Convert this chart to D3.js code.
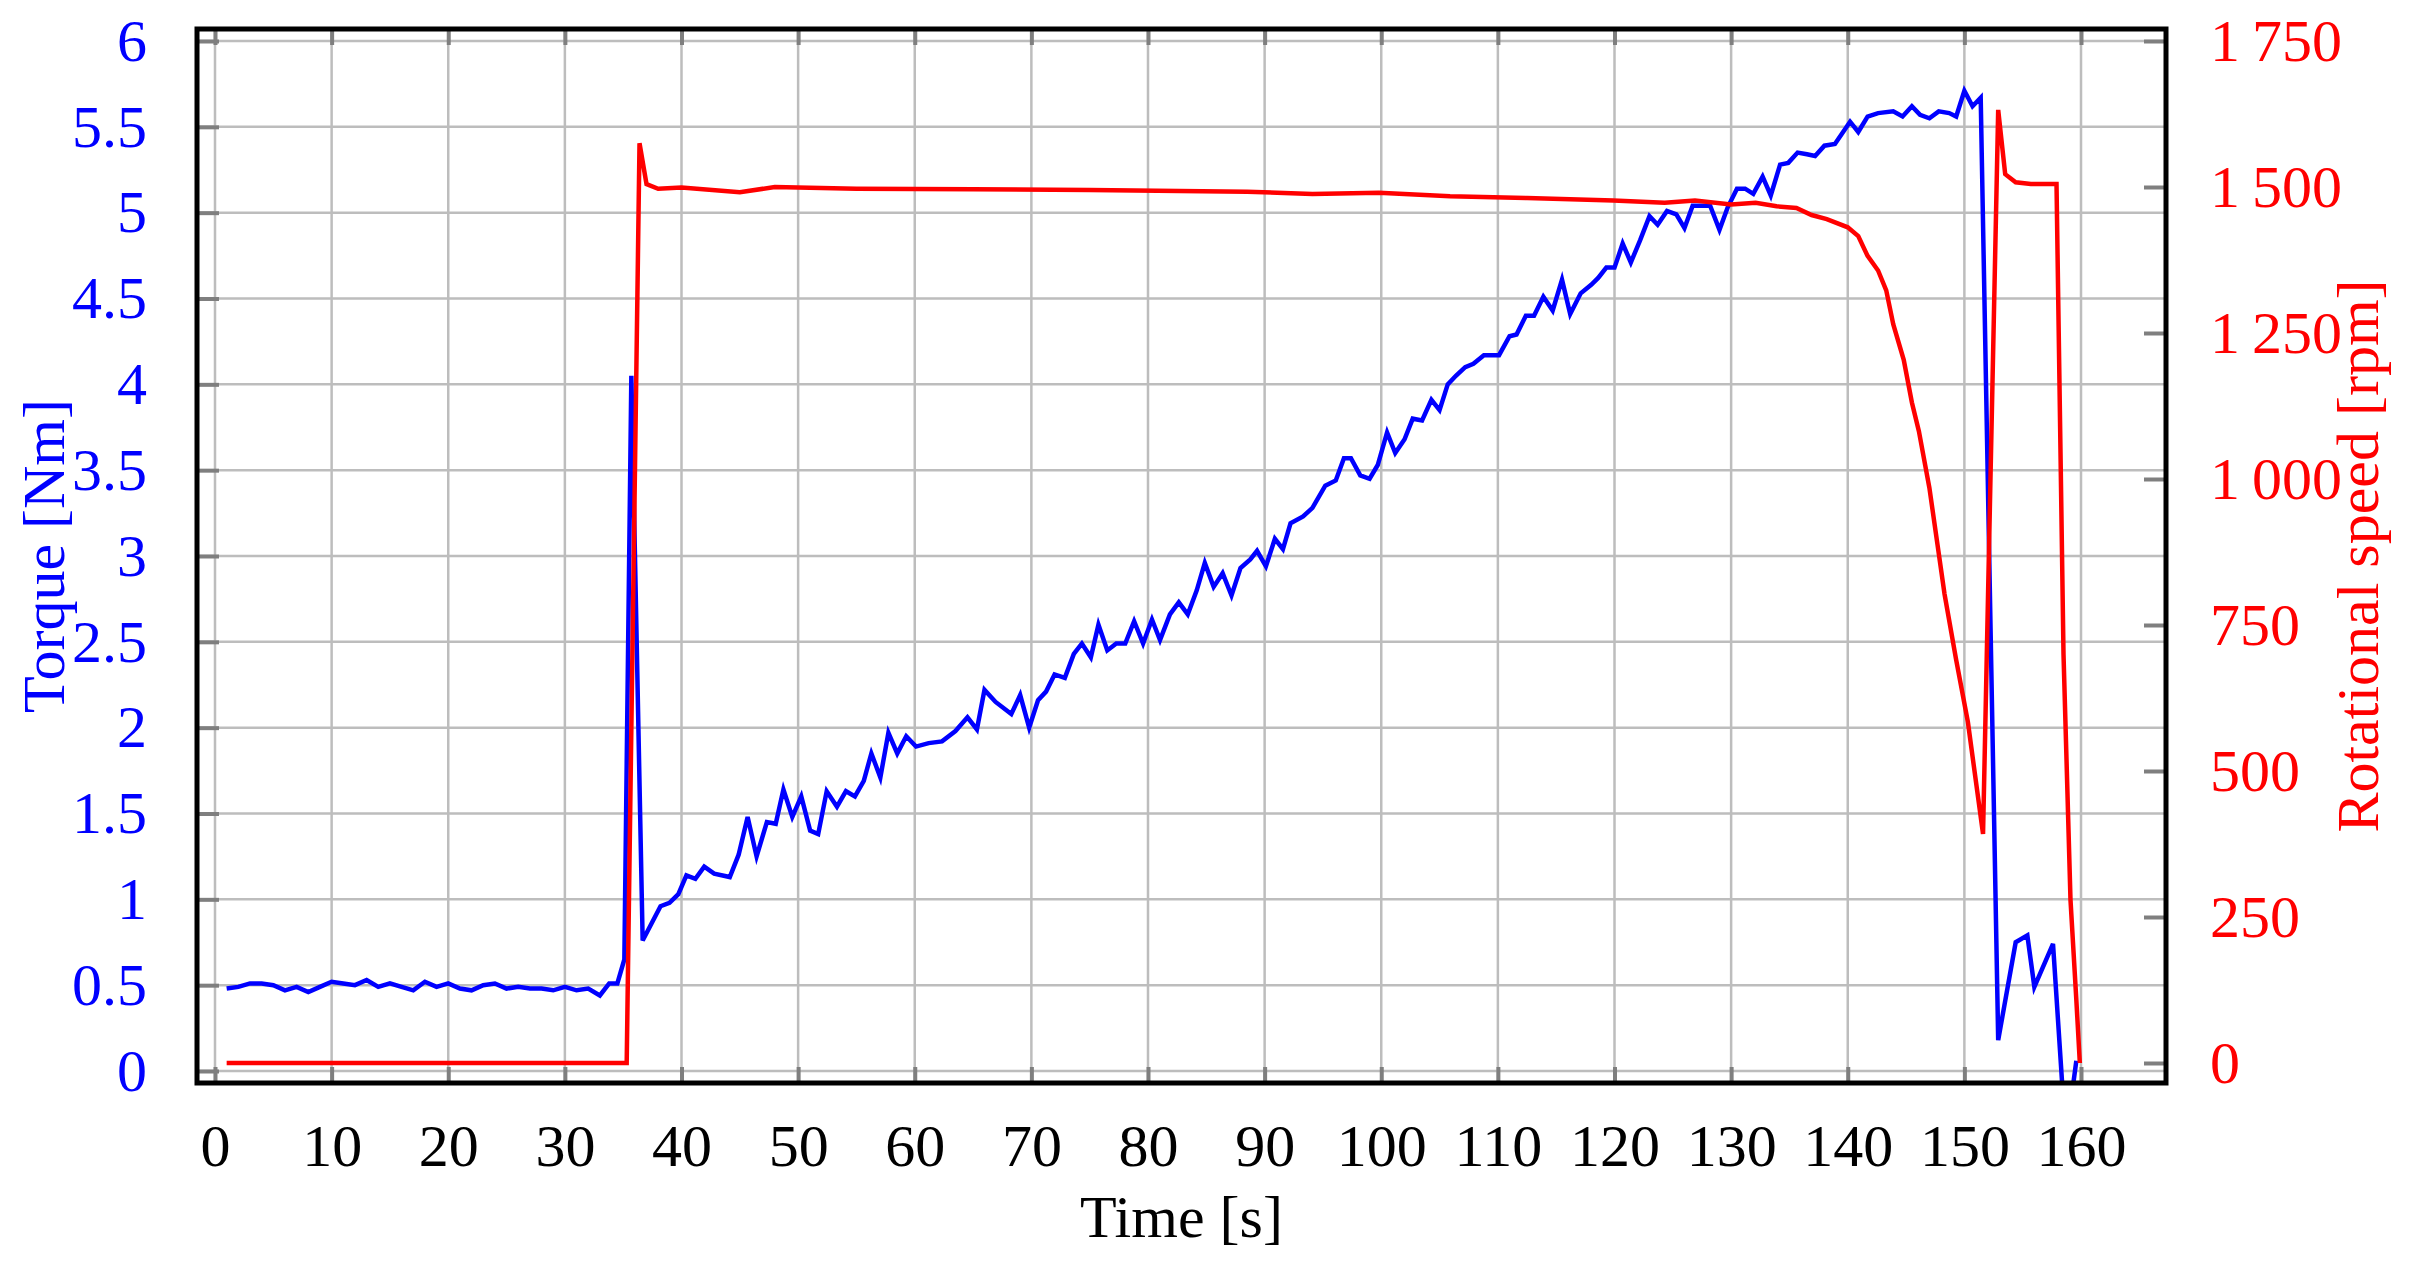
<!DOCTYPE html>
<html>
<head>
<meta charset="utf-8">
<script src="https://cdn.jsdelivr.net/npm/d3@7"></script>
<style>
  body { margin: 0; background: #fff; }
  text { font-family: "Liberation Serif", "DejaVu Serif", serif; }
</style>
</head>
<body>
<svg width="2409" height="1266"></svg>
<script>
// torque samples (time s, value Nm)
var torqueTime = [1,2,3,4,5,6,7,8,9,10,11,12,13,14,15,16,17,18,19,20,21,22,23,24,25,26,27,28,29,30,31,32,33,33.8,34.5,35.1,35.7,
  36.67,38.2,38.97,39.73,40.42,41.19,41.95,42.8,44.14,44.9,45.67,46.44,47.32,48.08,48.74,49.5,50.27,51.03,51.72,52.45,53.33,54.1,54.87,55.63,56.28,57.05,57.74,58.5,59.27,60.11,61.19,62.34,63.49,64.52,65.33,65.98,66.93,68.28,69.04,69.81,70.57,71.26,71.99,72.87,73.64,74.33,75.1,75.75,76.51,77.28,78.05,78.81,79.58,80.34,81.03,81.88,82.64,83.41,84.18,84.87,85.63,86.4,87.16,87.93,88.77,89.35,90.11,90.88,91.57,92.22,
  93.3,94.1,95.2,96.1,96.8,97.4,98.2,99,99.7,100.5,101.2,102,102.7,103.5,104.3,105,105.7,106.4,107.2,107.9,108.8,110.1,111,111.6,112.4,113.1,113.9,114.7,115.5,116.2,117.1,118,118.6,119.3,120,120.7,121.4,122.2,123,123.7,124.5,125.3,126,126.7,127.6,128.2,129,129.7,130.5,131.2,131.9,132.7,133.4,134.2,134.9,135.7,136.5,137.2,138,138.9,139.6,140.2,140.9,141.7,142.6,143.9,144.7,145.5,146.2,147,147.8,148.7,149.3,150,150.7,151.4,
  152.9,154.4,155.4,156,157.6,158.7,159.6];
var torqueValue = [0.48,0.49,0.51,0.51,0.5,0.47,0.49,0.46,0.49,0.52,0.51,0.5,0.53,0.49,0.51,0.49,0.47,0.52,0.49,0.51,0.48,0.47,0.5,0.51,0.48,0.49,0.48,0.48,0.47,0.49,0.47,0.48,0.44,0.51,0.51,0.65,4.05,
  0.76,0.96,0.98,1.03,1.14,1.12,1.19,1.15,1.13,1.26,1.48,1.25,1.45,1.44,1.64,1.48,1.6,1.4,1.38,1.63,1.54,1.63,1.6,1.69,1.85,1.71,1.97,1.85,1.95,1.89,1.91,1.92,1.98,2.06,1.99,2.22,2.15,2.08,2.19,2.0,2.16,2.21,2.31,2.29,2.43,2.49,2.41,2.6,2.45,2.49,2.49,2.62,2.49,2.63,2.51,2.66,2.73,2.66,2.8,2.96,2.82,2.9,2.77,2.93,2.98,3.03,2.94,3.1,3.04,3.19,
  3.23,3.28,3.41,3.44,3.57,3.57,3.47,3.45,3.53,3.72,3.6,3.68,3.8,3.79,3.91,3.85,4.0,4.05,4.1,4.12,4.17,4.17,4.28,4.29,4.4,4.4,4.51,4.43,4.61,4.41,4.53,4.58,4.62,4.68,4.68,4.82,4.71,4.84,4.98,4.93,5.01,4.99,4.91,5.04,5.04,5.04,4.9,5.03,5.14,5.14,5.11,5.21,5.1,5.28,5.29,5.35,5.34,5.33,5.39,5.4,5.47,5.53,5.47,5.56,5.58,5.59,5.56,5.62,5.57,5.55,5.59,5.58,5.56,5.71,5.62,5.67,
  0.18,0.75,0.79,0.49,0.74,-0.4,0.06];

// rotational speed samples (time s, rpm)
var speedTime = [1,35.3,36.4,37.0,38,40,45,48,55,65,75,88.5,94.1,99.8,105.9,112.5,119.9,124.3,126.9,130,132.1,133.9,135.6,136.9,138.2,140,140.9,141.7,142.6,143.3,143.9,144.8,145.5,146.1,147,147.7,148.3,149.3,150.3,151.6,152.9,153.5,154.4,155.7,157.9,158.5,159.1,159.6,159.9];
var speedValue = [0,0,1575,1505,1497,1499,1491,1500,1497,1496,1495,1492,1488,1490,1484,1481,1477,1473,1477,1470,1473,1467,1464,1452,1445,1431,1416,1382,1357,1323,1265,1204,1131,1082,985,887,803,690,584,392,1632,1522,1508,1505,1505,700,279,108,0];

var xTicks = d3.range(0, 161, 10);
var torqueTicks = d3.range(0, 6.01, 0.5);
var speedTicks = [0, 250, 500, 750, 1000, 1250, 1500, 1750];

var L = 197, R = 2166, T = 29, B = 1083;
var svg = d3.select("svg");

var x = d3.scaleLinear().domain([0, 160]).range([215, 2081]);
var yT = d3.scaleLinear().domain([0, 6]).range([1071, 41]);
var yS = d3.scaleLinear().domain([0, 1750]).range([1063, 41]);

svg.append("clipPath").attr("id", "clip")
  .append("rect").attr("x", L).attr("y", T).attr("width", R - L).attr("height", B - T);

// grid
var grid = svg.append("g").attr("stroke", "#bdbdbd").attr("stroke-width", 2.5);
grid.selectAll(".gx").data(xTicks).enter().append("line")
  .attr("x1", d => x(d)).attr("x2", d => x(d)).attr("y1", T).attr("y2", B);
grid.selectAll(".gy").data(torqueTicks).enter().append("line")
  .attr("x1", L).attr("x2", R).attr("y1", d => yT(d)).attr("y2", d => yT(d));

// axes, ticks inside in grey
function styleAxis(g) {
  g.select(".domain").remove();
  g.selectAll(".tick line").attr("stroke", "#7f7f7f").attr("stroke-width", 4);
  g.selectAll(".tick text").attr("font-size", 60).style("font-family", "Liberation Serif");
}
svg.append("g").attr("transform", "translate(0," + B + ")")
  .call(d3.axisBottom(x).tickValues(xTicks).tickSizeInner(-16).tickPadding(40).tickFormat(d3.format("d")))
  .call(styleAxis).selectAll(".tick text").attr("fill", "#000");
svg.append("g").attr("transform", "translate(0," + T + ")")
  .call(d3.axisTop(x).tickValues(xTicks).tickSizeInner(-16).tickFormat(""))
  .call(styleAxis);
svg.append("g").attr("transform", "translate(" + L + ",0)")
  .call(d3.axisLeft(yT).tickValues(torqueTicks).tickSizeInner(-22).tickPadding(50).tickFormat(d => d3.format("")(d)))
  .call(styleAxis).selectAll(".tick text").attr("fill", "#0000ff");
svg.append("g").attr("transform", "translate(" + R + ",0)")
  .call(d3.axisRight(yS).tickValues(speedTicks).tickSizeInner(-22).tickPadding(44)
    .tickFormat(d => d >= 1000 ? Math.floor(d / 1000) + "\u2009" + String(d % 1000).padStart(3, "0") : d))
  .call(styleAxis).selectAll(".tick text").attr("fill", "#ff0000");

// lines
var plot = svg.append("g").attr("clip-path", "url(#clip)");
plot.append("path")
  .datum(d3.zip(torqueTime, torqueValue))
  .attr("fill", "none").attr("stroke", "#0000ff").attr("stroke-width", 4.5).attr("stroke-linejoin", "miter")
  .attr("d", d3.line().x(d => x(d[0])).y(d => yT(d[1])));
plot.append("path")
  .datum(d3.zip(speedTime, speedValue))
  .attr("fill", "none").attr("stroke", "#ff0000").attr("stroke-width", 4.5)
  .attr("d", d3.line().x(d => x(d[0])).y(d => yS(d[1])));

// frame
svg.append("rect").attr("x", L).attr("y", T).attr("width", R - L).attr("height", B - T)
  .attr("fill", "none").attr("stroke", "#000").attr("stroke-width", 5);

// titles
svg.append("text").attr("x", (L + R) / 2).attr("y", 1237).attr("text-anchor", "middle")
  .attr("font-size", 60).text("Time [s]");
svg.append("text").attr("transform", "translate(64," + (T + B) / 2 + ") rotate(-90)")
  .attr("text-anchor", "middle").attr("font-size", 60).attr("fill", "#0000ff").text("Torque [Nm]");
svg.append("text").attr("transform", "translate(2378," + (T + B) / 2 + ") rotate(-90)")
  .attr("text-anchor", "middle").attr("font-size", 60).attr("fill", "#ff0000").text("Rotational speed [rpm]");
</script>
</body>
</html>
